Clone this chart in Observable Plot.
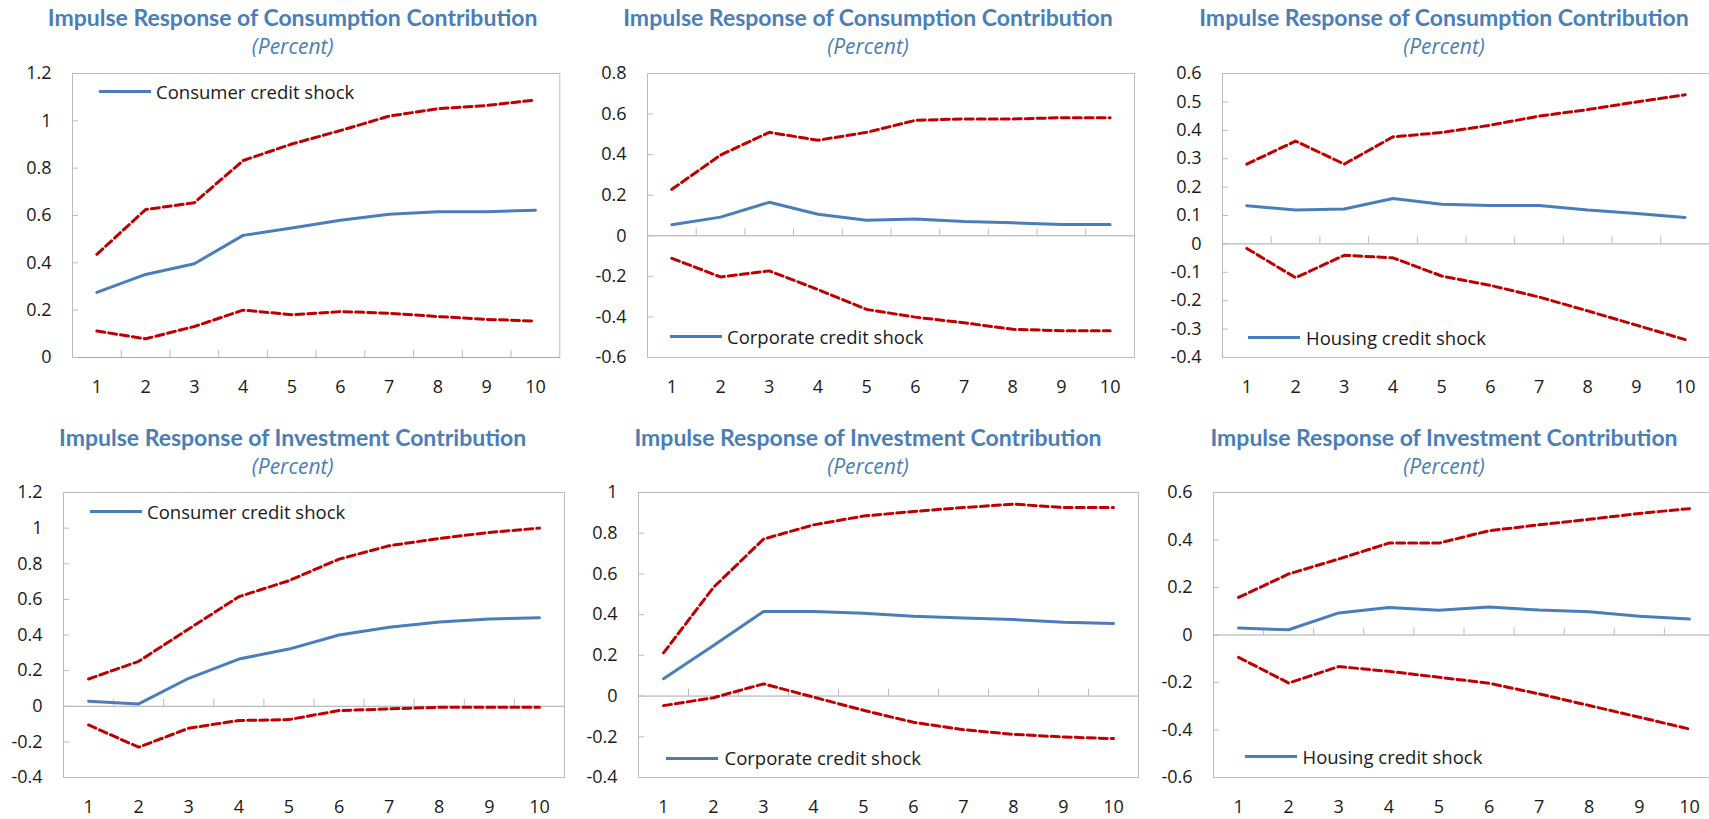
<!DOCTYPE html>
<html>
<head>
<meta charset="utf-8">
<script src="https://cdn.jsdelivr.net/npm/d3@7"></script>
<script src="https://cdn.jsdelivr.net/npm/@observablehq/plot@0.6"></script>
<style>
  html, body { margin: 0; padding: 0; background: #fff; }
  #page { position: relative; width: 1709px; height: 819px; overflow: hidden; font-family: "Open Sans", sans-serif; }
  .title { position: absolute; transform: translate(-50%, -50%); white-space: nowrap; font-family: Lato, sans-serif; font-weight: 700; font-size: 23px; color: #4a7eb7; line-height: 1; }
  .subtitle { position: absolute; transform: translate(-50%, -50%); white-space: nowrap; font-family: "Open Sans", sans-serif; font-style: italic; font-size: 21px; color: #4a7eb7; line-height: 1; }
  .legend-line { position: absolute; height: 3px; background: #4a7ebb; }
  .legend-text { position: absolute; transform: translateY(-50%); font-size: 18.5px; line-height: 1; color: #1a1a1a; white-space: nowrap; }
</style>
</head>
<body>
<div id="page"></div>
<script>
// Horizon (periods after the shock)
const periods = [1, 2, 3, 4, 5, 6, 7, 8, 9, 10];

const consumptionTitle = "Impulse Response of Consumption Contribution";
const investmentTitle = "Impulse Response of Investment Contribution";
const unitLabel = "(Percent)";
const shockLabels = ["Consumer credit shock", "Corporate credit shock", "Housing credit shock"];

// Consumption contribution: point response and error bands
const consConsumerMid   = [0.275, 0.351, 0.396, 0.516, 0.547, 0.580, 0.605, 0.616, 0.616, 0.622];
const consConsumerUpper = [0.436, 0.625, 0.654, 0.832, 0.902, 0.959, 1.020, 1.051, 1.065, 1.088];
const consConsumerLower = [0.112, 0.079, 0.131, 0.200, 0.181, 0.194, 0.187, 0.173, 0.161, 0.154];

const consCorporateMid   = [0.054, 0.092, 0.165, 0.106, 0.077, 0.083, 0.070, 0.064, 0.056, 0.056];
const consCorporateUpper = [0.229, 0.398, 0.510, 0.471, 0.510, 0.569, 0.576, 0.576, 0.582, 0.582];
const consCorporateLower = [-0.111, -0.203, -0.173, -0.265, -0.363, -0.401, -0.429, -0.461, -0.468, -0.468];

const consHousingMid   = [0.134, 0.119, 0.123, 0.160, 0.140, 0.135, 0.135, 0.119, 0.107, 0.093];
const consHousingUpper = [0.281, 0.362, 0.281, 0.377, 0.392, 0.418, 0.450, 0.473, 0.500, 0.525];
const consHousingLower = [-0.016, -0.119, -0.040, -0.049, -0.113, -0.146, -0.187, -0.236, -0.286, -0.337];

// Investment contribution: point response and error bands
const invConsumerMid   = [0.028, 0.013, 0.157, 0.265, 0.321, 0.400, 0.443, 0.473, 0.490, 0.497];
const invConsumerUpper = [0.153, 0.252, 0.434, 0.615, 0.705, 0.826, 0.901, 0.942, 0.976, 1.000];
const invConsumerLower = [-0.105, -0.230, -0.123, -0.080, -0.075, -0.024, -0.015, -0.006, -0.006, -0.006];

const invCorporateMid   = [0.085, 0.248, 0.415, 0.415, 0.407, 0.392, 0.384, 0.376, 0.363, 0.356];
const invCorporateUpper = [0.212, 0.534, 0.771, 0.841, 0.884, 0.907, 0.926, 0.943, 0.926, 0.926];
const invCorporateLower = [-0.047, -0.008, 0.060, -0.005, -0.070, -0.129, -0.165, -0.188, -0.201, -0.209];

const invHousingMid   = [0.029, 0.022, 0.093, 0.116, 0.104, 0.118, 0.105, 0.098, 0.079, 0.067];
const invHousingUpper = [0.158, 0.257, 0.320, 0.387, 0.387, 0.439, 0.464, 0.487, 0.512, 0.532];
const invHousingLower = [-0.094, -0.202, -0.133, -0.153, -0.178, -0.203, -0.248, -0.297, -0.346, -0.396];

// Value-axis ticks for each panel
const ticksConsConsumer  = [0, 0.2, 0.4, 0.6, 0.8, 1, 1.2];
const ticksConsCorporate = [-0.6, -0.4, -0.2, 0, 0.2, 0.4, 0.6, 0.8];
const ticksConsHousing   = [-0.4, -0.3, -0.2, -0.1, 0, 0.1, 0.2, 0.3, 0.4, 0.5, 0.6];
const ticksInvConsumer   = [-0.4, -0.2, 0, 0.2, 0.4, 0.6, 0.8, 1, 1.2];
const ticksInvCorporate  = [-0.4, -0.2, 0, 0.2, 0.4, 0.6, 0.8, 1];
const ticksInvHousing    = [-0.6, -0.4, -0.2, 0, 0.2, 0.4, 0.6];

const panels = [
  { title: consumptionTitle, shock: shockLabels[0], mid: consConsumerMid, upper: consConsumerUpper, lower: consConsumerLower, ticks: ticksConsConsumer },
  { title: consumptionTitle, shock: shockLabels[1], mid: consCorporateMid, upper: consCorporateUpper, lower: consCorporateLower, ticks: ticksConsCorporate },
  { title: consumptionTitle, shock: shockLabels[2], mid: consHousingMid, upper: consHousingUpper, lower: consHousingLower, ticks: ticksConsHousing },
  { title: investmentTitle, shock: shockLabels[0], mid: invConsumerMid, upper: invConsumerUpper, lower: invConsumerLower, ticks: ticksInvConsumer },
  { title: investmentTitle, shock: shockLabels[1], mid: invCorporateMid, upper: invCorporateUpper, lower: invCorporateLower, ticks: ticksInvCorporate },
  { title: investmentTitle, shock: shockLabels[2], mid: invHousingMid, upper: invHousingUpper, lower: invHousingLower, ticks: ticksInvHousing }
];

// Page layout: plot frame [left, top, width, height], heading centre, legend placement
const layout = [
  { frame: [71.7, 73.3, 487.3, 284], cx: 292.6, titleY: 16.7, subY: 46, legend: { lineX: 99, lineY: 91.7, textX: 156 } },
  { frame: [647, 73.3, 487, 284], cx: 868, titleY: 16.7, subY: 46, legend: { lineX: 670, lineY: 336.7, textX: 727 } },
  { frame: [1222, 73.3, 487, 284], cx: 1444, titleY: 16.7, subY: 46, legend: { lineX: 1248, lineY: 337.7, textX: 1306 } },
  { frame: [63, 491.7, 501, 285], cx: 292.6, titleY: 436.7, subY: 465.7, legend: { lineX: 90, lineY: 511.7, textX: 147 } },
  { frame: [638, 491.7, 500, 285], cx: 868, titleY: 436.7, subY: 465.7, legend: { lineX: 666, lineY: 758.3, textX: 724.5 } },
  { frame: [1213, 491.7, 501, 285], cx: 1444, titleY: 436.7, subY: 465.7, legend: { lineX: 1245, lineY: 756.7, textX: 1302.5 } }
];

const blue = "#4a7ebb";
const red = "#c00000";
const gridGray = "#bcbcbc";
const zeroGray = "#a8a8a8";
const legendLineWidth = 52;

const page = document.getElementById("page");
const boundaries = periods.slice(1).map(d => d - 0.5);
const xDomain = [periods[0] - 0.5, periods[periods.length - 1] + 0.5];
const fmt = d => String(Math.round(d * 10) / 10);

function addDiv(cls, text, style) {
  const el = document.createElement("div");
  el.className = cls;
  if (text != null) el.textContent = text;
  Object.assign(el.style, style);
  page.appendChild(el);
  return el;
}

panels.forEach((p, i) => {
  const L = layout[i];
  const [fx, fy, fw, fh] = L.frame;
  const mL = 70, mR = 8, mT = 10, mB = 50;
  const rows = periods.map((t, k) => ({ t, mid: p.mid[k], upper: p.upper[k], lower: p.lower[k] }));

  const chart = Plot.plot({
    width: mL + fw + mR,
    height: mT + fh + mB,
    marginLeft: mL, marginRight: mR, marginTop: mT, marginBottom: mB,
    style: { fontFamily: "Open Sans", fontSize: "18px", color: "#1a1a1a", background: "transparent", overflow: "visible" },
    x: { type: "linear", domain: xDomain },
    y: { domain: [p.ticks[0], p.ticks[p.ticks.length - 1]] },
    marks: [
      Plot.frame({ stroke: gridGray }),
      Plot.ruleY([0], { stroke: zeroGray }),
      // inward tick marks on the value axis
      Plot.ruleY(p.ticks, { y: d => d, x1: xDomain[0], x2: xDomain[0], insetRight: -6, stroke: gridGray }),
      // category separators rising from the zero line
      Plot.ruleX(boundaries, { x: d => d, y1: 0, y2: 0, insetTop: -7, stroke: gridGray }),
      Plot.axisX(periods, { tickSize: 0, tickPadding: 23, fontSize: 18, label: null, tickFormat: d => String(d) }),
      Plot.axisY(p.ticks, { tickSize: 0, tickPadding: 21, fontSize: 18, label: null, tickFormat: fmt }),
      Plot.line(rows, { x: "t", y: "upper", stroke: red, strokeWidth: 3, strokeDasharray: "8,4" }),
      Plot.line(rows, { x: "t", y: "lower", stroke: red, strokeWidth: 3, strokeDasharray: "8,4" }),
      Plot.line(rows, { x: "t", y: "mid", stroke: blue, strokeWidth: 3 })
    ]
  });
  chart.style.position = "absolute";
  chart.style.left = (fx - mL) + "px";
  chart.style.top = (fy - mT) + "px";
  page.appendChild(chart);

  addDiv("title", p.title, { left: L.cx + "px", top: L.titleY + "px" });
  addDiv("subtitle", unitLabel, { left: L.cx + "px", top: L.subY + "px" });
  addDiv("legend-line", null, { left: L.legend.lineX + "px", top: (L.legend.lineY - 1.5) + "px", width: legendLineWidth + "px" });
  addDiv("legend-text", p.shock, { left: L.legend.textX + "px", top: L.legend.lineY + "px" });
});
</script>
</body>
</html>
